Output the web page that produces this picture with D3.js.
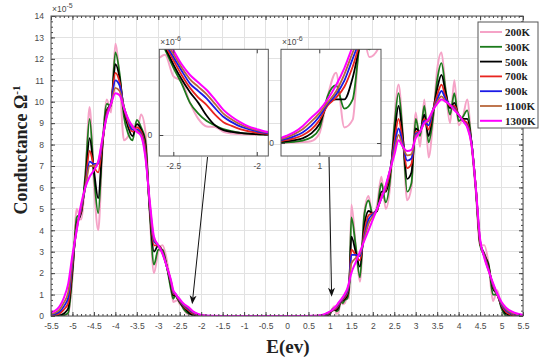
<!DOCTYPE html>
<html>
<head>
<meta charset="utf-8">
<script src="https://cdn.jsdelivr.net/npm/d3@7"></script>
<style>
    body { margin: 0; background: #fff; }
    svg { display: block; }
</style>
</head>
<body>
<svg id="drawing_region"></svg>
<script>
// energy grid (eV), finer where the insets zoom in
const energy = [
    -5.5,-5.4,-5.3,-5.2,-5.1,-5.0,-4.9,-4.8,-4.7,-4.6,-4.5,-4.4,-4.3,-4.2,-4.1,-4.0,-3.9,-3.8,-3.7,-3.6,-3.5,-3.4,-3.3,-3.2,-3.1,-3.0,-2.9,-2.8,-2.7,
    -2.65,-2.6,-2.55,-2.5,-2.45,-2.4,-2.35,-2.3,-2.25,-2.2,-2.15,-2.1,-2.05,-2.0,-1.95,
    -1.9,-1.8,-1.5,-1.0,-0.5,0,0.5,0.6,0.7,
    0.75,0.8,0.85,0.9,0.95,1.0,1.05,1.1,1.15,1.2,1.25,1.3,1.35,1.4,1.45,
    1.5,1.6,1.7,1.8,1.9,2.0,2.1,2.2,2.3,2.4,2.5,2.6,2.7,2.8,2.9,3.0,3.1,3.2,3.3,3.4,3.5,3.6,3.7,3.8,3.9,
    4.0,4.1,4.2,4.3,4.4,4.5,4.6,4.7,4.8,4.9,5.0,5.1,5.2,5.3,5.4,5.5
];

// conductance, units of 1e-5 Ohm^-1
const g200 = [
    0,0,0,0.02,0.1,1.8,5.0,4.5,6.5,9.75,6.2,4.0,7.8,10.1,9.5,12.7,11.0,8.2,8.4,8.9,8.6,9.4,8.6,4.8,2.0,3.0,3.3,2.6,1.3,
    0.65,0.7,0.75,0.55,0.5,0.3,0.15,0.08,0.075,0.03,0.015,0.008,0.004,0.002,0.001,
    0,0,0,0,0,0,0,0,0,
    0,0.001,0.003,0.006,0.012,0.06,0.3,0.45,0.1,0.15,0.75,0.55,0.6,1.0,0.8,
    5.2,3.3,1.6,4.8,5.6,4.6,5.2,6.5,5.0,6.0,9.0,10.8,8.5,5.4,6.0,9.5,7.9,10.1,7.4,9.0,11.5,12.3,10.5,9.0,11.0,
    8.9,9.3,10.1,8.0,5.8,3.3,3.3,2.4,0.7,1.2,0.4,0.05,0.01,0,0,0
];
const g300 = [
    0,0,0.01,0.04,0.15,2.0,4.6,4.8,6.6,9.2,6.6,4.8,8.0,9.9,9.8,12.3,11.3,9.3,8.5,8.2,9.15,8.8,8.2,4.9,2.4,3.1,3.1,2.3,1.2,
    0.8,0.95,0.8,0.63,0.48,0.3,0.2,0.13,0.09,0.055,0.035,0.02,0.012,0.007,0.004,
    0.002,0,0,0,0,0,0,0,0,
    0.002,0.004,0.008,0.016,0.035,0.09,0.3,0.37,0.22,0.28,0.65,0.6,0.75,0.8,1.3,
    4.6,3.3,1.8,4.7,5.4,4.7,5.0,6.2,5.3,6.3,8.8,10.4,8.4,5.8,6.2,9.2,8.4,9.8,8.1,9.2,11.0,11.8,10.5,9.4,10.4,
    9.1,9.3,9.6,8.1,5.9,3.3,2.8,2.4,1.0,1.0,0.35,0.02,0,0,0,0
];
const g500 = [
    0.01,0.02,0.04,0.12,0.35,2.2,4.3,4.8,6.3,8.3,6.8,5.5,8.0,9.6,9.9,11.75,11.1,9.6,8.8,8.4,8.95,8.7,8.0,5.0,3.0,3.3,3.0,2.3,1.4,
    0.95,0.98,0.82,0.66,0.52,0.4,0.3,0.18,0.09,0.045,0.03,0.02,0.012,0.008,0.005,
    0.003,0.001,0,0,0,0,0,0,0.002,
    0.005,0.01,0.018,0.03,0.06,0.12,0.25,0.28,0.28,0.42,0.65,0.72,0.8,0.95,1.5,
    3.7,3.0,2.3,4.2,4.9,4.8,4.9,5.8,5.8,6.6,8.4,9.8,8.3,6.4,6.7,8.75,8.6,9.4,8.4,9.5,10.6,11.25,10.4,9.7,9.95,
    9.35,9.2,9.2,8.1,6.0,3.4,2.9,2.3,1.3,1.0,0.45,0.1,0.03,0.01,0,0
];
const g700 = [
    0.04,0.06,0.12,0.3,0.6,2.4,4.2,4.9,6.1,7.7,7.0,6.7,8.1,9.5,9.95,11.35,10.9,9.7,9.0,8.6,8.8,8.6,7.8,5.1,3.3,3.3,3.0,2.3,1.5,
    1.05,1.0,0.84,0.7,0.56,0.44,0.35,0.28,0.19,0.12,0.085,0.055,0.035,0.022,0.012,
    0.008,0.003,0,0,0,0,0,0.001,0.005,
    0.01,0.018,0.03,0.05,0.085,0.145,0.24,0.29,0.36,0.49,0.66,0.76,0.88,1.05,1.55,
    3.1,2.85,2.6,3.9,4.7,4.8,4.95,5.6,5.9,6.7,8.1,9.2,8.1,6.9,7.1,8.6,8.6,9.2,8.7,9.6,10.3,10.8,10.2,9.8,9.8,
    9.4,9.15,9.0,8.1,6.0,3.4,2.85,2.2,1.4,1.0,0.5,0.2,0.08,0.04,0.02,0.01
];
const g900 = [
    0.07,0.1,0.2,0.45,0.85,2.55,4.1,5.0,6.0,7.2,7.1,7.1,8.2,9.4,9.95,11.0,10.75,9.75,9.1,8.7,8.7,8.5,7.6,5.2,3.5,3.3,2.95,2.3,1.55,
    1.1,1.02,0.86,0.73,0.6,0.48,0.41,0.34,0.25,0.17,0.12,0.08,0.055,0.035,0.02,
    0.012,0.005,0.001,0,0,0,0,0.003,0.008,
    0.014,0.026,0.043,0.068,0.11,0.17,0.25,0.31,0.4,0.54,0.68,0.8,0.94,1.12,1.55,
    2.85,2.85,2.8,3.7,4.5,4.75,5.0,5.5,6.0,6.8,7.9,8.75,8.0,7.25,7.35,8.5,8.6,9.1,8.9,9.6,10.1,10.5,10.1,9.85,9.7,
    9.4,9.1,8.9,8.1,6.0,3.5,2.8,2.15,1.45,1.0,0.55,0.28,0.14,0.07,0.04,0.02
];
const g1100 = [
    0.1,0.15,0.3,0.62,1.1,2.7,4.05,5.1,6.0,7.0,7.0,7.2,8.25,9.35,9.9,10.65,10.5,9.75,9.15,8.8,8.65,8.45,7.5,5.3,3.6,3.3,2.9,2.3,1.6,
    1.15,1.03,0.88,0.76,0.63,0.52,0.45,0.38,0.29,0.2,0.145,0.1,0.068,0.045,0.027,
    0.017,0.007,0.001,0,0,0,0.001,0.005,0.012,
    0.02,0.035,0.057,0.088,0.135,0.19,0.26,0.33,0.44,0.58,0.71,0.84,1.0,1.2,1.55,
    2.45,2.7,2.9,3.6,4.3,4.65,5.0,5.5,6.05,6.8,7.7,8.45,7.9,7.5,7.55,8.4,8.6,9.0,9.1,9.6,10.0,10.25,10.0,9.85,9.65,
    9.4,9.1,8.85,8.0,6.0,3.5,2.75,2.1,1.5,1.0,0.6,0.33,0.19,0.1,0.06,0.03
];
const g1300 = [
    0.16,0.25,0.45,0.85,1.5,2.85,4.0,5.2,6.0,6.5,6.8,7.2,8.3,9.3,9.9,10.4,10.3,9.7,9.2,8.85,8.6,8.4,7.4,5.4,3.7,3.3,2.9,2.3,1.65,
    1.2,1.05,0.9,0.79,0.66,0.56,0.49,0.42,0.33,0.235,0.17,0.12,0.08,0.055,0.033,
    0.02,0.01,0.002,0,0,0,0.002,0.008,0.016,
    0.025,0.045,0.07,0.108,0.16,0.21,0.28,0.37,0.48,0.62,0.75,0.88,1.05,1.25,1.6,
    2.0,2.5,3.0,3.5,4.0,4.5,5.0,5.5,6.1,6.8,7.5,8.2,7.9,7.7,7.75,8.3,8.6,9.0,9.2,9.6,9.9,10.1,10.0,9.85,9.6,
    9.4,9.1,8.8,8.0,6.0,3.6,2.7,2.1,1.55,1.05,0.65,0.4,0.25,0.15,0.09,0.05
];

const seriesNames = ['200K', '300K', '500k', '700k', '900k', '1100K', '1300K'];
const seriesValues = [g200, g300, g500, g700, g900, g1100, g1300];

const xTicks = [-5.5,-5,-4.5,-4,-3.5,-3,-2.5,-2,-1.5,-1,-0.5,0,0.5,1,1.5,2,2.5,3,3.5,4,4.5,5,5.5];
const yTicks = [0,1,2,3,4,5,6,7,8,9,10,11,12,13,14];
const inset1XTicks = [-2.5, -2];
const inset2XTicks = [1];
const insetYTicks = [0];

// styles, kept apart from the data
const colors = ['#f5a3c7', '#1b7a1b', '#000000', '#e8251f', '#1a1ae6', '#b8673c', '#ff00ff'];
const widths = [2, 1.8, 1.8, 1.8, 1.8, 1.8, 2];

const series = seriesNames.map((name, i) => ({
    name: name,
    color: colors[i],
    width: widths[i],
    values: energy.map((e, j) => ({ e: e, v: seriesValues[i][j] }))
}));

const svg = d3.select('#drawing_region')
    .attr('width', 539)
    .attr('height', 358);

class LineChart {

    constructor( config ) {
        this.config = {
            parent: config.parent,
            id: config.id,
            left: config.left,
            top: config.top,
            width: config.width,
            height: config.height,
            xdomain: config.xdomain,
            ydomain: config.ydomain,
            xticks: config.xticks,
            yticks: config.yticks,
            xminor: config.xminor || [],
            yminor: config.yminor || [],
            exponent: config.exponent || '',
            expX: config.expX || 0,
        }
        this.init();
    }

    init() {
        let self = this;
        const c = self.config;

        self.xscale = d3.scaleLinear()
            .domain(c.xdomain)
            .range([0, c.width]);
        self.yscale = d3.scaleLinear()
            .domain(c.ydomain)
            .range([c.height, 0]);

        self.chart = c.parent.append('g')
            .attr('transform', `translate(${c.left}, ${c.top})`);

        self.chart.append('rect')
            .attr('width', c.width)
            .attr('height', c.height)
            .attr('fill', '#fff');

        // grid
        self.chart.append('g')
            .attr('class', 'grid')
            .selectAll('line.gx')
            .data(c.xticks)
            .join('line')
            .attr('x1', d => self.xscale(d)).attr('x2', d => self.xscale(d))
            .attr('y1', 0).attr('y2', c.height);
        self.chart.select('g.grid')
            .selectAll('line.gy')
            .data(c.yticks)
            .join('line')
            .attr('class', 'gy')
            .attr('y1', d => self.yscale(d)).attr('y2', d => self.yscale(d))
            .attr('x1', 0).attr('x2', c.width);
        self.chart.selectAll('g.grid line')
            .attr('stroke', '#e2e2e2')
            .attr('stroke-width', 1)
            .attr('shape-rendering', 'crispEdges');

        svg.append('defs').append('clipPath')
            .attr('id', c.id)
            .append('rect')
            .attr('width', c.width)
            .attr('height', c.height);

        self.line_group = self.chart.append('g')
            .attr('clip-path', `url(#${c.id})`);

        self.line = d3.line()
            .x(d => self.xscale(d.e))
            .y(d => self.yscale(d.v))
            .curve(d3.curveMonotoneX);
    }

    render( data ) {
        let self = this;
        const c = self.config;

        self.line_group.selectAll('path')
            .data(data)
            .join('path')
            .attr('d', d => self.line(d.values))
            .attr('fill', 'none')
            .attr('stroke', d => d.color)
            .attr('stroke-width', d => d.width)
            .attr('stroke-linejoin', 'round');

        const fmt = d => String(d);

        const xaxis = d3.axisBottom(self.xscale)
            .tickValues(c.xticks).tickSizeInner(-4).tickSizeOuter(0).tickPadding(7).tickFormat(fmt);
        const xaxisTop = d3.axisTop(self.xscale)
            .tickValues(c.xticks).tickSizeInner(-4).tickSizeOuter(0).tickFormat('');
        const yaxis = d3.axisLeft(self.yscale)
            .tickValues(c.yticks).tickSizeInner(-4).tickSizeOuter(0).tickPadding(7).tickFormat(fmt);
        const yaxisRight = d3.axisRight(self.yscale)
            .tickValues(c.yticks).tickSizeInner(-4).tickSizeOuter(0).tickFormat('');

        const axes = self.chart.append('g');
        axes.append('g').attr('transform', `translate(0, ${c.height})`).call(xaxis);
        axes.append('g').call(xaxisTop);
        axes.append('g').call(yaxis);
        axes.append('g').attr('transform', `translate(${c.width}, 0)`).call(yaxisRight);

        if (c.xminor.length) {
            axes.append('g').attr('transform', `translate(0, ${c.height})`)
                .call(d3.axisBottom(self.xscale).tickValues(c.xminor).tickSizeInner(-2).tickSizeOuter(0).tickFormat(''));
            axes.append('g')
                .call(d3.axisTop(self.xscale).tickValues(c.xminor).tickSizeInner(-2).tickSizeOuter(0).tickFormat(''));
        }
        if (c.yminor.length) {
            axes.append('g')
                .call(d3.axisLeft(self.yscale).tickValues(c.yminor).tickSizeInner(-2).tickSizeOuter(0).tickFormat(''));
            axes.append('g').attr('transform', `translate(${c.width}, 0)`)
                .call(d3.axisRight(self.yscale).tickValues(c.yminor).tickSizeInner(-2).tickSizeOuter(0).tickFormat(''));
        }

        axes.selectAll('.domain').remove();
        axes.selectAll('.tick line').attr('stroke', '#444');
        axes.selectAll('.tick text')
            .attr('fill', '#4a4a4a')
            .attr('font-family', 'Liberation Sans, Arial, sans-serif')
            .attr('font-size', '8.5px');

        self.chart.append('rect')
            .attr('width', c.width)
            .attr('height', c.height)
            .attr('fill', 'none')
            .attr('stroke', '#555')
            .attr('stroke-width', 1);

        if (c.exponent) {
            const t = self.chart.append('text')
                .attr('x', c.expX)
                .attr('y', -4)
                .attr('fill', '#4a4a4a')
                .attr('font-family', 'Liberation Sans, Arial, sans-serif')
                .attr('font-size', '8.5px');
            t.append('tspan').text('\u00d710');
            t.append('tspan').attr('dy', -4).attr('font-size', '7px').text(c.exponent);
        }
    }
}

// main axes
const xMinor = d3.range(-55, 56).map(d => d / 10);
const yMinor = d3.range(0, 57).map(d => d / 4);

let main_chart = new LineChart({
    parent: svg, id: 'clip_main',
    left: 51, top: 16, width: 472, height: 300,
    xdomain: [-5.5, 5.5], ydomain: [0, 14],
    xticks: xTicks, yticks: yTicks,
    xminor: xMinor, yminor: yMinor,
    exponent: '-5', expX: 1,
});
main_chart.render(series);

// zoomed insets on the two band edges
let inset1 = new LineChart({
    parent: svg, id: 'clip_in1',
    left: 159.3, top: 49.3, width: 109, height: 106.7,
    xdomain: [-2.584, -1.931], ydomain: [-0.196, 0.8],
    xticks: inset1XTicks, yticks: insetYTicks,
    exponent: '-6', expX: 1,
});
inset1.render(series);

let inset2 = new LineChart({
    parent: svg, id: 'clip_in2',
    left: 281, top: 49.3, width: 100, height: 106.7,
    xdomain: [0.771, 1.369], ydomain: [-0.083, 0.6],
    xticks: inset2XTicks, yticks: insetYTicks,
    exponent: '-6', expX: 1,
});
inset2.render(series);

// arrows from each inset down to the region it magnifies
const arrows = [
    { from: inset1, fromE: -2.295, to: -2.21, toV: 0.55 },
    { from: inset2, fromE: 1.058, to: 1.04, toV: 0.9 },
];
arrows.forEach(a => {
    const x1 = a.from.config.left + a.from.xscale(a.fromE);
    const y1 = a.from.config.top + a.from.config.height + 1;
    const x2 = main_chart.config.left + main_chart.xscale(a.to);
    const y2 = main_chart.config.top + main_chart.yscale(a.toV);
    const ang = Math.atan2(y2 - y1, x2 - x1);
    const L = 9, W = 3.5, N = 6.5;
    const pt = (l, w) => [x2 - l * Math.cos(ang) - w * Math.sin(ang), y2 - l * Math.sin(ang) + w * Math.cos(ang)];
    svg.append('line')
        .attr('x1', x1).attr('y1', y1)
        .attr('x2', pt(N, 0)[0]).attr('y2', pt(N, 0)[1])
        .attr('stroke', '#111').attr('stroke-width', 1);
    svg.append('path')
        .attr('d', 'M' + [[x2, y2], pt(L, W), pt(N, 0), pt(L, -W)].map(p => p.join(',')).join('L') + 'Z')
        .attr('fill', '#111');
});

// axis titles
svg.append('text')
    .attr('transform', 'translate(27, 150) rotate(-90)')
    .attr('text-anchor', 'middle')
    .attr('font-family', 'Liberation Serif, Times New Roman, serif')
    .attr('font-weight', 'bold')
    .attr('font-size', '18px')
    .attr('fill', '#222')
    .call(t => {
        t.append('tspan').text('Conductance \u03a9');
        t.append('tspan').attr('dy', -7).attr('font-size', '11px').text('-1');
    });

svg.append('text')
    .attr('x', 288)
    .attr('y', 353)
    .attr('text-anchor', 'middle')
    .attr('font-family', 'Liberation Serif, Times New Roman, serif')
    .attr('font-weight', 'bold')
    .attr('font-size', '19px')
    .attr('fill', '#222')
    .text('E(ev)');

// legend
const legend = svg.append('g').attr('transform', 'translate(478, 22)');
legend.append('rect')
    .attr('width', 60).attr('height', 106)
    .attr('fill', '#fff').attr('stroke', '#555').attr('stroke-width', 1);
const rows = legend.selectAll('g.row')
    .data(series)
    .join('g')
    .attr('transform', (d, i) => `translate(0, ${10 + i * 14.8})`);
rows.append('line')
    .attr('x1', 2).attr('x2', 24)
    .attr('stroke', d => d.color)
    .attr('stroke-width', d => d.width);
rows.append('text')
    .attr('x', 27).attr('y', 4)
    .attr('font-family', 'Liberation Serif, Times New Roman, serif')
    .attr('font-weight', 'bold')
    .attr('font-size', '11px')
    .attr('fill', '#222')
    .text(d => d.name);
</script>
</body>
</html>
